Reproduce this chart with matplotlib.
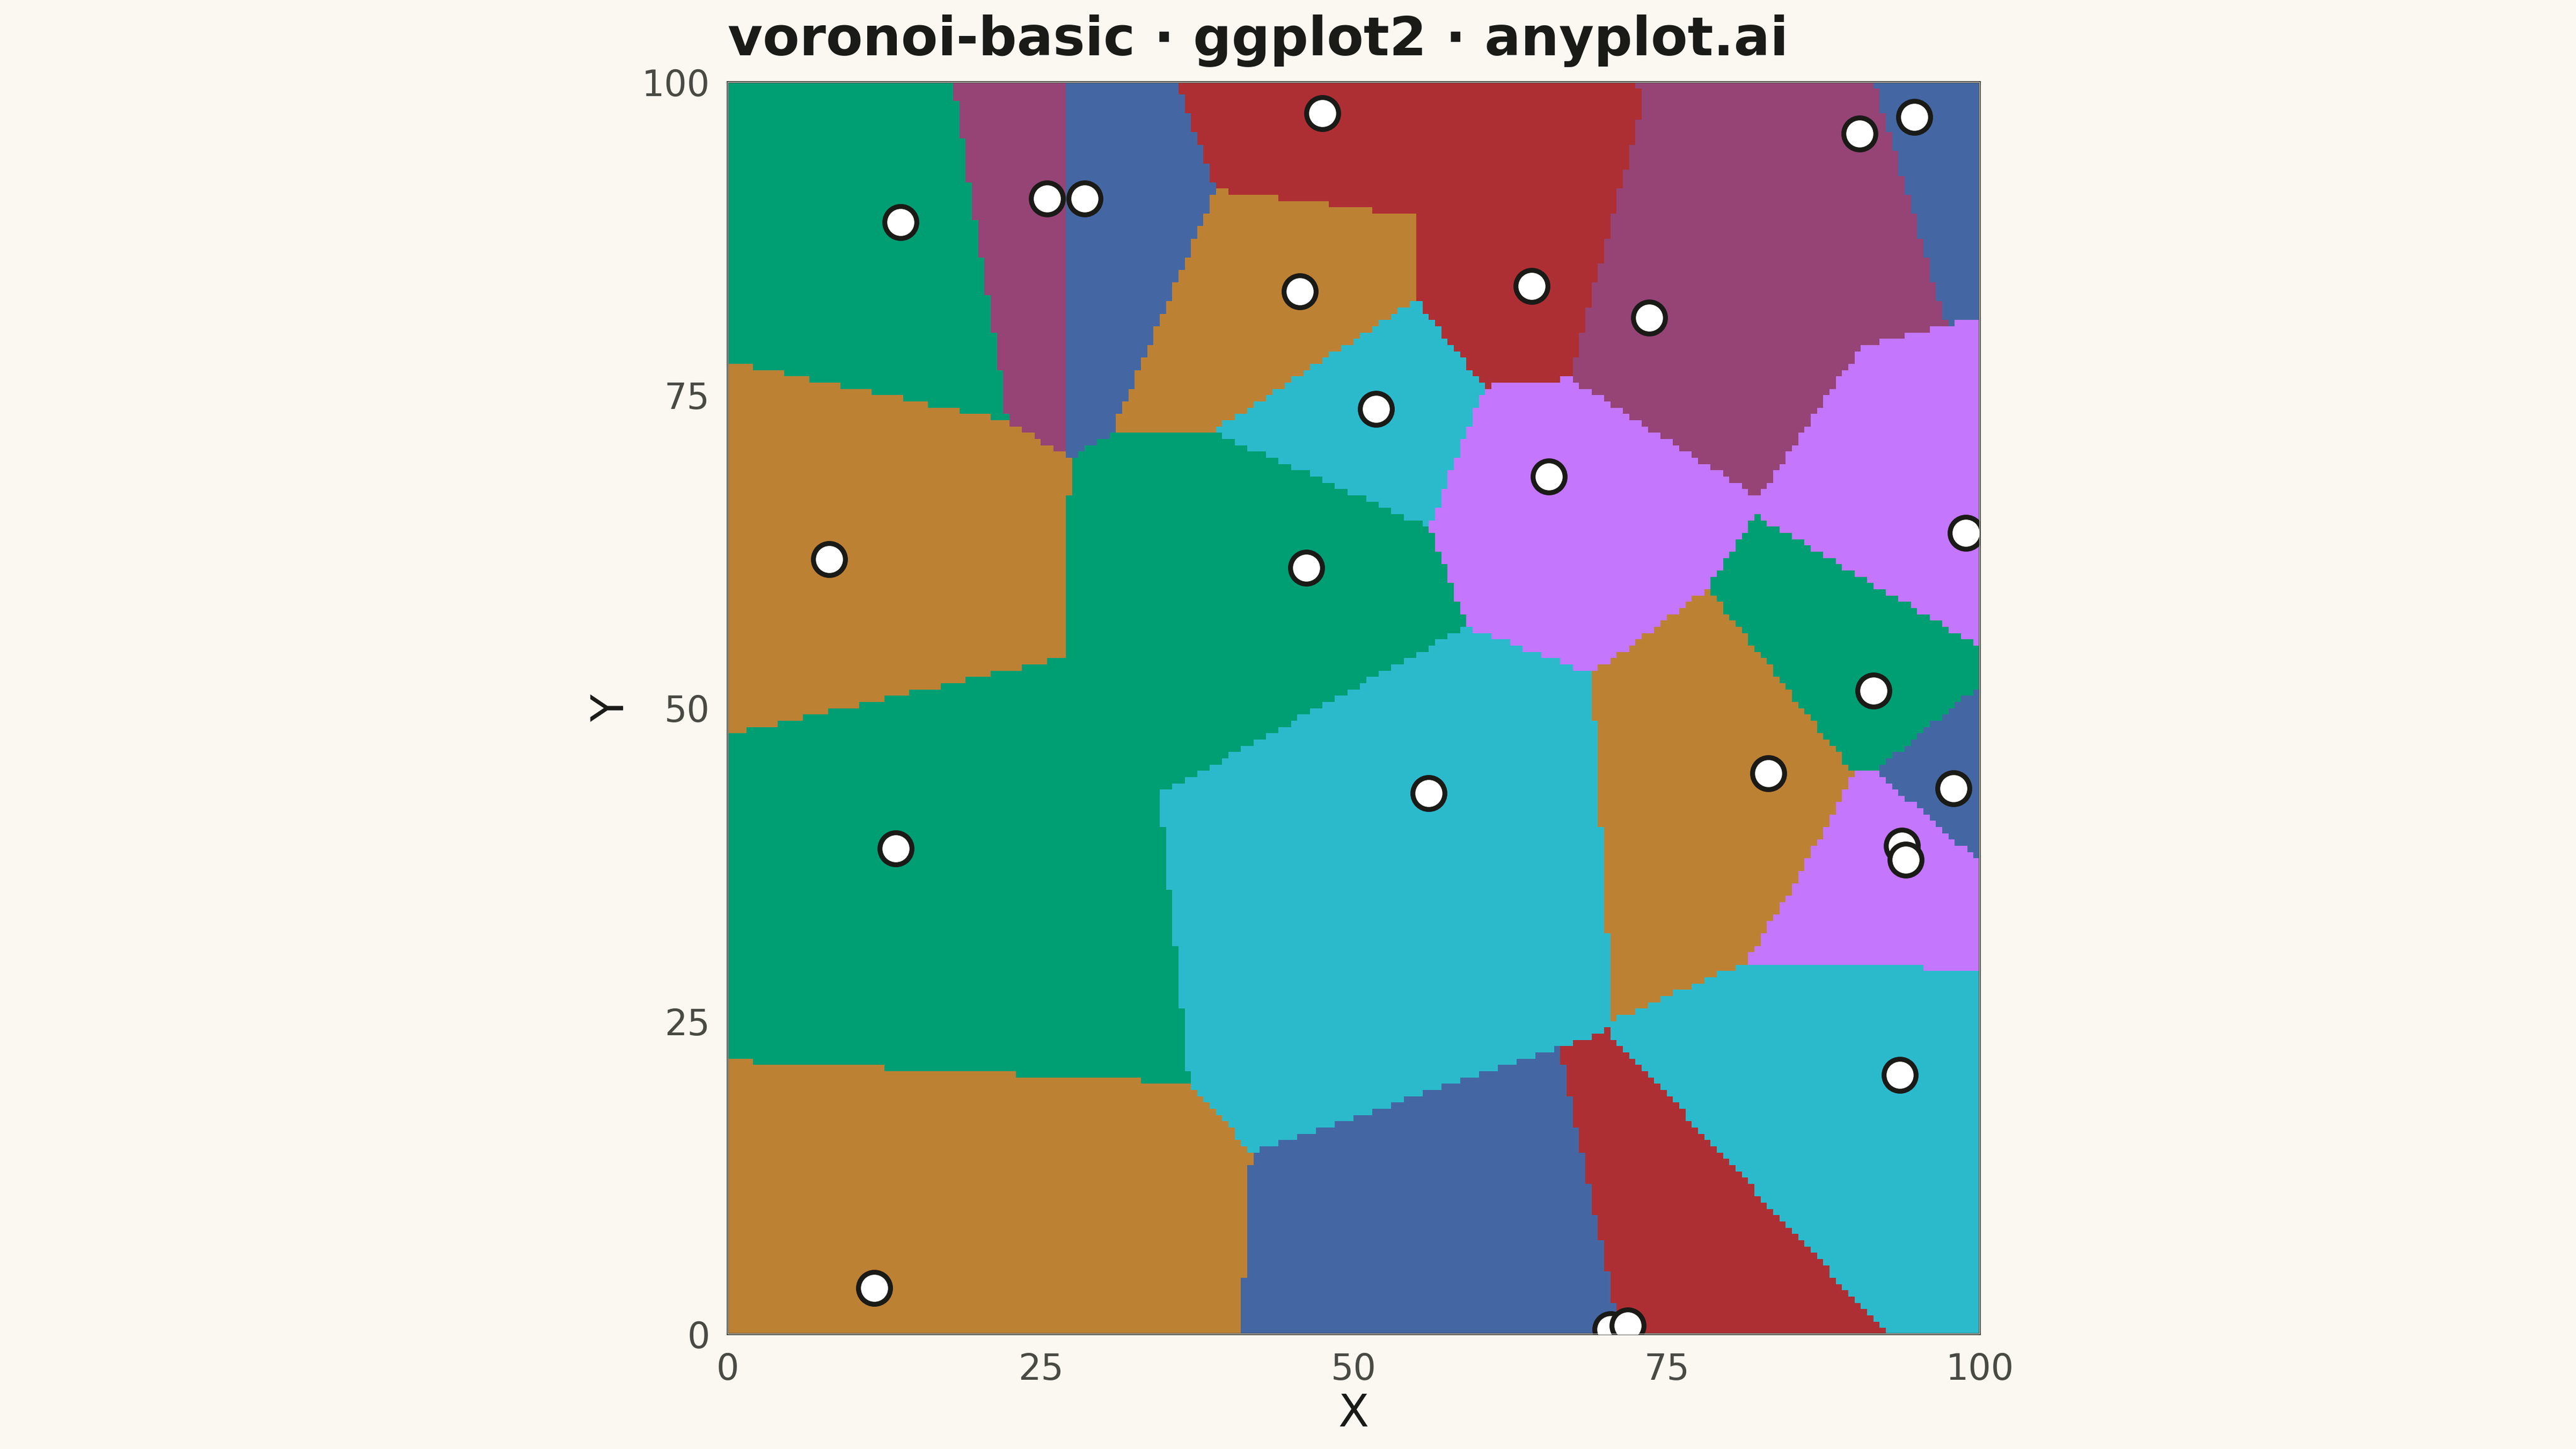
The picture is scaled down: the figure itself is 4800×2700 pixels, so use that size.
import numpy as np
import matplotlib
matplotlib.use("Agg")
import matplotlib.pyplot as plt
from matplotlib.colors import ListedColormap
from matplotlib.patches import Rectangle

# ---- data ----
px = [13.8, 25.5, 28.5, 47.5, 45.7, 64.2, 73.6, 90.4, 94.8, 51.8, 65.6, 8.1, 46.2,
      98.9, 91.5, 83.1, 56.0, 97.9, 93.8, 94.1, 13.4, 93.6, 11.7, 70.5, 71.9]
py = [88.8, 90.7, 90.7, 97.5, 83.3, 83.7, 81.2, 95.9, 97.2, 73.9, 68.5, 61.9, 61.2,
      64.0, 51.4, 44.8, 43.2, 43.6, 39.0, 37.9, 38.8, 20.7, 3.7, 0.4, 0.7]
cell_color = ["green", "mauve", "blue", "red", "orange", "red", "mauve", "mauve", "blue",
              "cyan", "violet", "orange", "green", "violet", "green", "orange", "cyan",
              "blue", "violet", "violet", "green", "cyan", "orange", "blue", "red"]
palette = {"green": "#009E73", "mauve": "#954475", "blue": "#4467A3", "red": "#AE2F33",
           "orange": "#BD8134", "cyan": "#2BBACC", "violet": "#C476FD"}
ticks = [0, 25, 50, 75, 100]

BG = "#FAF8F1"
INK = "#1A1A17"
SOFT = "#4A4A44"

px_a = np.array(px)
py_a = np.array(py)
n_grid = 200
gx = (np.arange(n_grid) + 0.5) * 100 / n_grid
gy = (np.arange(n_grid) + 0.5) * 100 / n_grid
GX, GY = np.meshgrid(gx, gy)
d2 = (GX[..., None] - px_a) ** 2 + (GY[..., None] - py_a) ** 2
nearest = np.argmin(d2, axis=-1)

cmap = ListedColormap([palette[c] for c in cell_color])

fig = plt.figure(figsize=(16, 9), dpi=300, facecolor=BG)
ax = fig.add_axes([0.2825, 0.0793, 0.486, 0.864])
ax.set_facecolor(BG)
ax.imshow(nearest, origin="lower", extent=[0, 100, 0, 100], cmap=cmap,
          vmin=-0.5, vmax=len(px) - 0.5, interpolation="nearest", aspect="auto")
ax.scatter(px, py, s=205, facecolor="white", edgecolor=INK, linewidth=2.2, zorder=3,
           clip_on=True)
ax.set_xlim(0, 100)
ax.set_ylim(0, 100)
ax.set_xticks(ticks)
ax.set_yticks(ticks)
ax.tick_params(length=0, pad=8, labelsize=16, labelcolor=SOFT)
for s in ax.spines.values():
    s.set_color(SOFT)
    s.set_linewidth(0.9)
ax.add_patch(Rectangle((0, 0), 1, 1, transform=ax.transAxes, fill=False,
                       edgecolor="#EFEDE6", linewidth=0.4, zorder=4))
ax.set_xlabel("X", fontsize=20, color=INK, labelpad=2)
ax.set_ylabel("Y", fontsize=20, color=INK, labelpad=4)
fig.text(0.2825, 0.962, "voronoi-basic · ggplot2 · anyplot.ai", fontsize=24,
         fontweight="bold", color=INK, ha="left", va="baseline")
fig.savefig("out.png", dpi=300, facecolor=BG)
